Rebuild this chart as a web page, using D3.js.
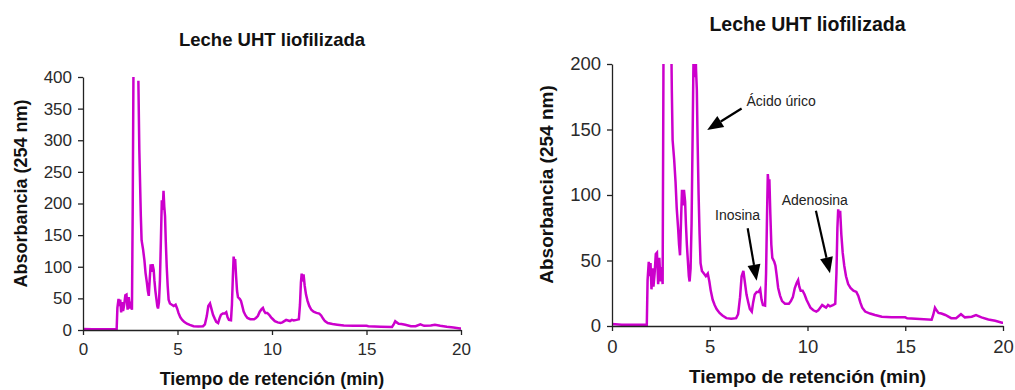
<!DOCTYPE html>
<html>
<head>
<meta charset="utf-8">
<script src="https://cdn.jsdelivr.net/npm/d3@7"></script>
<style>
  html, body { margin: 0; padding: 0; background: #fff; }
  svg { display: block; font-family: Arial, "Liberation Sans", sans-serif; }
</style>
</head>
<body>
<svg id="chart" width="1015" height="390"></svg>
<script>
// HPLC chromatogram of freeze-dried UHT milk (254 nm)
// Retention time (min); null marks the off-scale break between the two solvent-front spikes.
const retentionTime = [
  0.00, 0.50, 1.00, 1.50, 1.78, 1.82, 1.88, 1.93, 1.97, 2.02, 2.07, 2.12, 2.18, 2.24, 2.30,
  2.36, 2.42, 2.48, 2.54, 2.59, 2.63, 2.67, 2.80, 2.93, 2.98, 3.06, 3.10, 3.18, 3.25,
  3.31, 3.38, 3.43, 3.48, 3.53, 3.58, 3.63, 3.68, 3.74, 3.78, 3.83, 3.88, 3.93, 3.97,
  4.02, 4.07, 4.12, 4.17, 4.22, 4.26, 4.30, 4.34, 4.38, 4.43, 4.48, 4.53, 4.60, 4.70,
  4.80, 4.90, 4.98, 5.05, 5.15, 5.25, 5.35, 5.50, 5.65, 5.85, 6.10, 6.35, 6.45, 6.55,
  6.63, 6.72, 6.80, 6.88, 6.97, 7.05, 7.15, 7.22, 7.30, 7.40, 7.50, 7.58, 7.65, 7.72,
  7.83, 7.88, 7.93, 7.97, 8.02, 8.05, 8.10, 8.15, 8.20, 8.30, 8.36, 8.42, 8.50, 8.60,
  8.70, 8.85, 9.05, 9.15, 9.25, 9.35, 9.45, 9.52, 9.58, 9.65, 9.75, 9.85, 9.95, 10.05,
  10.15, 10.30, 10.45, 10.55, 10.65, 10.75, 10.85, 10.95, 11.05, 11.15, 11.30, 11.42,
  11.48, 11.53, 11.57, 11.62, 11.67, 11.73, 11.80, 11.88, 11.97, 12.08, 12.20, 12.35,
  12.50, 12.60, 12.70, 12.80, 12.95, 13.20, 13.45, 13.80, 14.30, 15.00, 15.10, 15.75,
  16.35, 16.43, 16.52, 16.60, 16.70, 16.85, 17.05, 17.35, 17.60, 17.85, 18.05, 18.40,
  18.62, 18.90, 19.25, 19.60, 19.95, 20.00
];
const absorbance = [
  1.5, 1, 1, 1, 1, 35, 49, 38, 48, 28, 44, 30, 40, 55, 56,
  32, 52, 34, 45, 32, 190, 410, null, 394, 285, 180, 142, 127, 110,
  90, 75, 62, 54, 80, 104, 92, 104, 95, 78, 62, 50, 38, 34,
  44, 78, 140, 205, 190, 220, 195, 180, 140, 100, 70, 48, 42, 40,
  38, 40, 34, 27, 20, 16, 13, 10, 8, 6, 5.5, 6, 9, 22,
  38, 42, 33, 24, 18, 13, 11, 18, 24, 26, 26, 28, 20, 16,
  15.5, 40, 85, 116, 106, 112, 85, 62, 52, 49, 46, 39, 29, 23,
  19, 17, 17, 19, 22, 29, 33, 35, 30, 27, 27, 24, 20, 17,
  14, 12, 11, 12, 14, 16, 15, 14, 16, 15, 16, 17,
  40, 75, 89, 83, 88, 70, 56, 46, 38, 32, 29, 27,
  26, 23, 18, 14, 11, 9.5, 8.4, 7, 6.6, 6.6, 5.9, 5.3,
  4.8, 8.4, 14, 12, 10, 9.5, 8.4, 6, 6, 9, 6.6, 7.1,
  8.4, 6.6, 5, 4, 2.5, 2.5
];

const xTicks = [0, 5, 10, 15, 20];
const yTicksFull = [0, 50, 100, 150, 200, 250, 300, 350, 400];
const yTicksZoom = [0, 50, 100, 150, 200];

const chartTitle = "Leche UHT liofilizada";
const xTitle = "Tiempo de retención (min)";
const yTitle = "Absorbancia (254 nm)";

// Peak labels: text anchor, arrow tail and arrow tip, all in (min, absorbance)
const peakLabels = ["Ácido úrico", "Inosina", "Adenosina"];
const labelAt = [[6.88, 168], [5.27, 81], [8.68, 92.4]];
const arrowFrom = [[6.63, 166], [6.94, 74.6], [10.43, 88]];
const arrowTo = [[4.87, 149.6], [7.40, 34.6], [11.15, 40.2]];

const points = retentionTime.map((t, i) => ({ t, v: absorbance[i] }));
const svg = d3.select("#chart");
const traceColor = "#cc00cc";
const inkColor = "#222";

function drawPanel(opt) {
  const x = d3.scaleLinear().domain([0, 20]).range([opt.left, opt.right]);
  const y = d3.scaleLinear().domain([0, opt.yMax]).range([opt.bottom, opt.top]);
  const g = svg.append("g");

  const clipId = "clip-" + opt.id;
  svg.append("clipPath").attr("id", clipId)
    .append("rect")
    .attr("x", opt.left).attr("y", opt.top)
    .attr("width", opt.right - opt.left + 2)
    .attr("height", opt.bottom - opt.top + 2);

  const line = d3.line()
    .defined(d => d.v !== null)
    .x(d => x(d.t))
    .y(d => y(d.v))
    .curve(d3.curveLinear);

  g.append("path")
    .datum(points)
    .attr("clip-path", `url(#${clipId})`)
    .attr("fill", "none")
    .attr("stroke", traceColor)
    .attr("stroke-width", 2.5)
    .attr("stroke-linejoin", "miter")
    .attr("d", line);

  const xAxis = g.append("g")
    .attr("transform", `translate(0,${opt.bottom})`)
    .call(d3.axisBottom(x).tickValues(xTicks).tickSize(5).tickSizeOuter(0).tickPadding(opt.xPad));
  const yAxis = g.append("g")
    .attr("transform", `translate(${opt.left},0)`)
    .call(d3.axisLeft(y).tickValues(opt.yTicks).tickSize(5).tickSizeOuter(0).tickPadding(6));

  [xAxis, yAxis].forEach(a => {
    a.select(".domain").attr("stroke", inkColor).attr("stroke-width", 1.3);
    a.selectAll(".tick line").attr("stroke", inkColor).attr("stroke-width", 1.3);
    a.selectAll(".tick text")
      .attr("fill", "#2a2a2a")
      .style("font-family", 'Arial, "Liberation Sans", sans-serif')
      .style("font-size", opt.tickFont + "px");
  });

  g.append("text")
    .attr("x", (opt.left + opt.right) / 2)
    .attr("y", opt.titleY)
    .attr("text-anchor", "middle")
    .attr("font-weight", "bold")
    .attr("font-size", opt.titleFont)
    .attr("fill", "#111")
    .text(chartTitle);

  g.append("text")
    .attr("x", (opt.left + opt.right) / 2)
    .attr("y", opt.xTitleY)
    .attr("text-anchor", "middle")
    .attr("font-weight", "bold")
    .attr("font-size", opt.axisFont)
    .attr("fill", "#111")
    .text(xTitle);

  g.append("text")
    .attr("transform", `translate(${opt.yTitleX},${opt.yTitleCy}) rotate(-90)`)
    .attr("text-anchor", "middle")
    .attr("font-weight", "bold")
    .attr("font-size", opt.axisFont)
    .attr("fill", "#111")
    .text(yTitle);

  return { x, y, g };
}

drawPanel({
  id: "full", left: 83, right: 461, top: 77, bottom: 330, yMax: 400,
  yTicks: yTicksFull, tickFont: 17, titleFont: 18.5, axisFont: 18,
  titleY: 45.5, xTitleY: 385, yTitleX: 27, yTitleCy: 193.5, xPad: 8
});

const zoom = drawPanel({
  id: "zoom", left: 612, right: 1003, top: 64, bottom: 326, yMax: 200,
  yTicks: yTicksZoom, tickFont: 18.5, titleFont: 19.5, axisFont: 19,
  titleY: 30.5, xTitleY: 383, yTitleX: 553, yTitleCy: 184.5, xPad: 9
});

// Annotated peaks with arrows on the expanded-scale panel
const ann = zoom.g.append("g");
peakLabels.forEach((label, i) => {
  const [x0, y0] = [zoom.x(arrowFrom[i][0]), zoom.y(arrowFrom[i][1])];
  const [x1, y1] = [zoom.x(arrowTo[i][0]), zoom.y(arrowTo[i][1])];
  const ang = Math.atan2(y1 - y0, x1 - x0);
  const headLen = 16, headHalf = 6.5;
  const bx = x1 - headLen * Math.cos(ang), by = y1 - headLen * Math.sin(ang);
  const px = -Math.sin(ang), py = Math.cos(ang);

  ann.append("line")
    .attr("x1", x0).attr("y1", y0).attr("x2", bx).attr("y2", by)
    .attr("stroke", "#000").attr("stroke-width", 2.2);
  ann.append("path")
    .attr("d", `M${x1},${y1}L${bx + px * headHalf},${by + py * headHalf}L${bx - px * headHalf},${by - py * headHalf}Z`)
    .attr("fill", "#000");

  ann.append("text")
    .attr("x", zoom.x(labelAt[i][0]))
    .attr("y", zoom.y(labelAt[i][1]))
    .attr("font-size", 14)
    .attr("fill", inkColor)
    .text(label);
});
</script>
</body>
</html>
